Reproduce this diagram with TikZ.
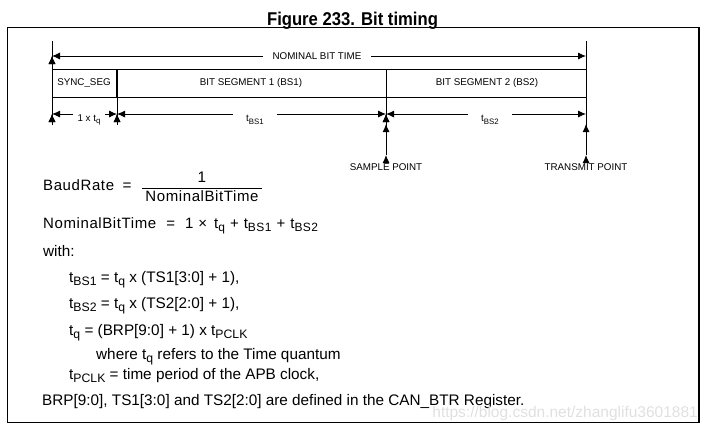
\documentclass[tikz,border=0pt]{standalone}
\usepackage{fontspec}
\setmainfont{Liberation Sans}
\usepackage{graphicx}
\usetikzlibrary{positioning, arrows, arrows.meta, calc}
\newcommand{\lsub}[1]{\raisebox{-0.45ex}{\scalebox{0.8}{#1}}}
\newcommand{\eqfont}{\fontsize{15}{17}\selectfont\addfontfeature{LetterSpace=4}}
\newcommand{\gap}[1]{\hspace{#1pt}}

\begin{document}
\begin{tikzpicture}[x=1pt,y=-1pt]
		\tikzstyle{invisible} = [outer sep=0,inner sep=0,minimum size=0]
		\tikzstyle{thinline} = [line width=0.9pt]
		\tikzstyle{dim} = [{Latex[length=8pt,width=7pt]}-{Latex[length=8pt,width=7pt]}, line width=0.9pt]
		\tikzstyle{uparrow} = [-{Latex[length=8pt,width=7pt]}, line width=0.9pt]
		\tikzstyle{seg} = [font=\fontsize{9.8}{11}\selectfont, inner sep=1pt]
		\tikzstyle{lbl} = [seg, fill=white, inner ysep=3pt]
		\tikzstyle{txt} = [anchor=base west, font=\fontsize{15.3}{17}\selectfont, inner sep=0]
		\useasboundingbox (0,0) rectangle (708,431);
		\node [anchor=base, font=\fontsize{18.5}{20}\bfseries\selectfont] (title) at (352.5,25) {\scalebox{0.9}[1]{Figure 233. Bit timing}};
		\draw [line width=1.3pt] (7.5,27.7) rectangle (699,422.5);
		% end points of the bit time
		\coordinate (a1) at (52,41);
		\coordinate (a2) at (52,125);
		\coordinate (b1) at (586,41);
		\coordinate (b2) at (586,155);
		\coordinate (n1) at (52,56);
		\coordinate (n2) at (586,56);
		\coordinate (c1) at (52,69);
		\coordinate (c2) at (586,69);
		\coordinate (d1) at (52,97);
		\coordinate (d2) at (586,97);
		\coordinate (s1) at (117,69);
		\coordinate (s2) at (117,97);
		\coordinate (s3) at (117,125);
		\coordinate (p1) at (386,69);
		\coordinate (p2) at (386,155);
		\coordinate (p3) at (386,124);
		\coordinate (r3) at (586,124);
		\coordinate (m1) at (52,114);
		\coordinate (m2) at (117,114);
		\coordinate (m3) at (386,114);
		\coordinate (m4) at (586,114);
		\draw [thinline] (a1) edge (a2);
		\draw [thinline] (b1) edge (b2);
		\draw [thinline] (c1) edge (c2);
		\draw [thinline] (d1) edge (d2);
		\draw [line width=2pt] (s1) edge (s2);
		\draw [thinline] (s2) edge (s3);
		\draw [thinline] (p1) edge (p2);
		\draw [dim] (n1) edge (n2);
		\draw [dim] (m1) edge (m2);
		\draw [dim] (m2) edge (m3);
		\draw [dim] (m3) edge (m4);
		\draw [uparrow] (p2) edge (p3);
		\draw [uparrow] (b2) edge (r3);
		\node [lbl, inner xsep=10pt] (v1) at (317,56) {NOMINAL BIT TIME};
		\node [seg] (v2) at (84,83) {SYNC\_SEG};
		\node [seg] (v3) at (251,83) {BIT SEGMENT 1 (BS1)};
		\node [seg] (v4) at (487,83) {BIT SEGMENT 2 (BS2)};
		\node [lbl, inner xsep=5pt] (v5) at (89,120) {1 x t\lsub{q}};
		\node [lbl, minimum width=44pt] (v6) at (255,120) {t\lsub{BS1}};
		\node [lbl, minimum width=44pt] (v7) at (490,120) {t\lsub{BS2}};
		\node [seg] (v8) at (386,167) {SAMPLE POINT};
		\node [seg] (v9) at (586,167) {TRANSMIT POINT};
		% formulas
		\node [txt] (e1) at (43,190) {\eqfont BaudRate};
		\node [txt, anchor=base] (e2) at (127,190) {=};
		\node [txt, anchor=base] (e3) at (202,182) {1};
		\node [txt, anchor=base] (e4) at (202,201) {\eqfont NominalBitTime};
		\draw [thinline] (142,188) -- (262,188);
		\node [txt] (e5) at (43,228) {\eqfont NominalBitTime\gap{10}=\gap{10}1\gap{5}×\gap{7}t\lsub{q}\gap{5}+\gap{5}t\lsub{BS1}\gap{5}+\gap{5}t\lsub{BS2}};
		\node [txt] (e6) at (43,256) {with:};
		\node [txt] (e7) at (69,282) {t\lsub{BS1} = t\lsub{q} x (TS1[3:0] + 1),};
		\node [txt] (e8) at (69,308) {t\lsub{BS2} = t\lsub{q} x (TS2[2:0] + 1),};
		\node [txt] (e9) at (69,335) {t\lsub{q} = (BRP[9:0] + 1) x t\lsub{PCLK}};
		\node [txt] (e10) at (96,359) {where t\lsub{q} refers to the Time quantum};
		\node [txt] (e11) at (69,379) {t\lsub{PCLK} = time period of the APB clock,};
		\node [txt] (e12) at (42,405) {BRP[9:0], TS1[3:0] and TS2[2:0] are defined in the CAN\_BTR Register.};
		\node [txt, anchor=base east, font=\fontsize{15.5}{17}\selectfont, text=black!12] (w1) at (698,417) {https://blog.csdn.net/zhanglifu3601881};
\end{tikzpicture}
\end{document}
